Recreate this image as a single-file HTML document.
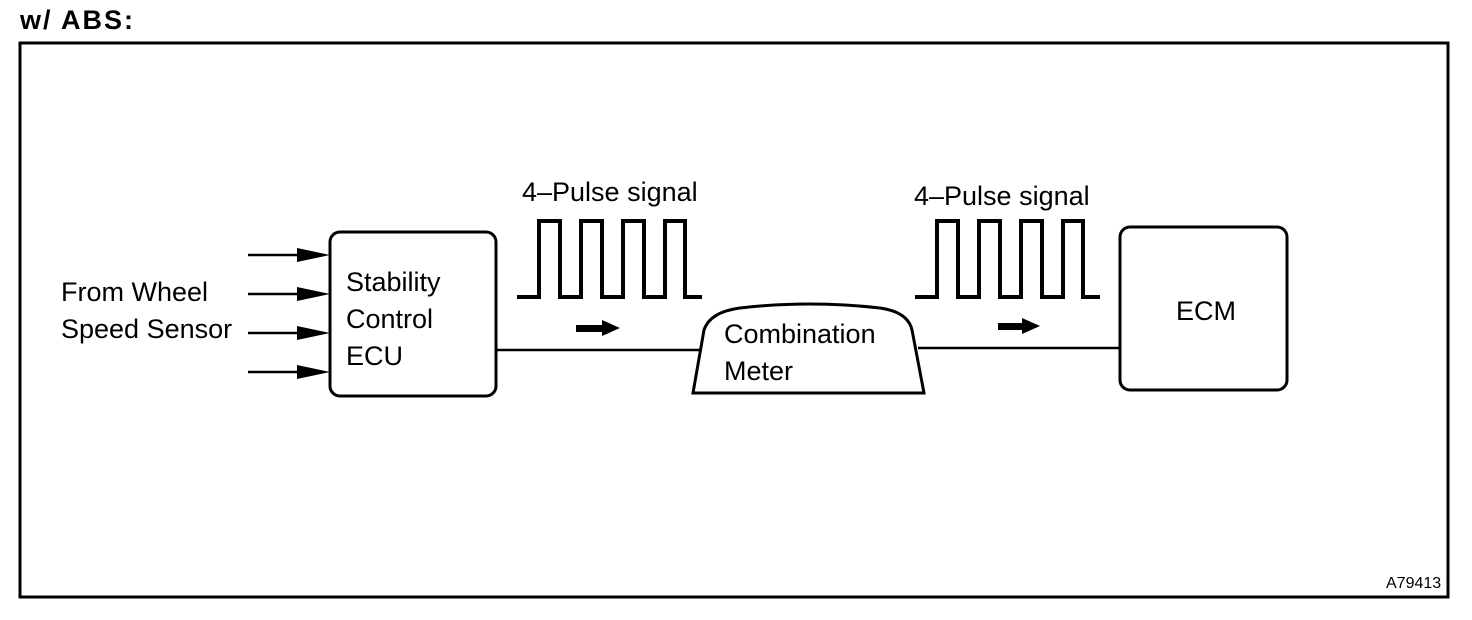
<!DOCTYPE html>
<html><head><meta charset="utf-8"><style>
html,body{margin:0;padding:0;background:#fff;}
svg{display:block;}
text{font-family:"Liberation Sans",Arial,sans-serif;fill:#000;}
</style></head><body>
<svg width="1472" height="620" viewBox="0 0 1472 620" xmlns="http://www.w3.org/2000/svg">
<text x="20" y="29" font-size="27" font-weight="bold" letter-spacing="2">w/ ABS:</text>
<rect x="20" y="43" width="1428" height="554" fill="none" stroke="#000" stroke-width="3"/>
<g stroke="#000" stroke-width="2.5" fill="none">
<line x1="248" y1="255" x2="310" y2="255"/>
<line x1="248" y1="294" x2="310" y2="294"/>
<line x1="248" y1="333" x2="310" y2="333"/>
<line x1="248" y1="372" x2="310" y2="372"/>
</g>
<g fill="#000">
<polygon points="297,248 330,255 297,262"/>
<polygon points="297,287 330,294 297,301"/>
<polygon points="297,326 330,333 297,340"/>
<polygon points="297,365 330,372 297,379"/>
</g>
<rect x="330" y="232" width="166" height="164" rx="10" fill="none" stroke="#000" stroke-width="3"/>
<text x="346" y="291" font-size="27">Stability</text>
<text x="346" y="328" font-size="27">Control</text>
<text x="346" y="365" font-size="27">ECU</text>
<text x="61" y="301" font-size="27">From Wheel</text>
<text x="61" y="338" font-size="27">Speed Sensor</text>
<text x="522" y="201" font-size="27">4–Pulse signal</text>
<text x="914" y="205" font-size="27">4–Pulse signal</text>
<polyline fill="none" stroke="#000" stroke-width="4" points="517,297 539,297 539,221 560,221 560,297 581,297 581,221 602,221 602,297 623,297 623,221 644,221 644,297 665,297 665,221 685,221 685,297 702,297"/>
<polyline fill="none" stroke="#000" stroke-width="4" points="915,297 937,297 937,221 958,221 958,297 979,297 979,221 1000,221 1000,297 1021,297 1021,221 1042,221 1042,297 1063,297 1063,221 1083,221 1083,297 1100,297"/>
<g fill="#000">
<rect x="576" y="325" width="28" height="7"/><polygon points="602,320 620,328 602,336"/>
<rect x="998" y="323" width="26" height="7"/><polygon points="1022,318 1040,326 1022,334"/>
</g>
<g stroke="#000" stroke-width="2.5" fill="none">
<line x1="496" y1="350" x2="700" y2="350"/>
<line x1="918" y1="348" x2="1120" y2="348"/>
</g>
<path d="M693,393 L704,330 Q710,312 740,308 Q810,300 880,308 Q908,312 912,330 L924,393 Z" fill="#fff" stroke="#000" stroke-width="3"/>
<text x="724" y="343" font-size="27">Combination</text>
<text x="724" y="380" font-size="27">Meter</text>
<rect x="1120" y="227" width="167" height="163" rx="10" fill="none" stroke="#000" stroke-width="3"/>
<text x="1176" y="320" font-size="27">ECM</text>
<text x="1386" y="588" font-size="16">A79413</text>
</svg>
</body></html>
